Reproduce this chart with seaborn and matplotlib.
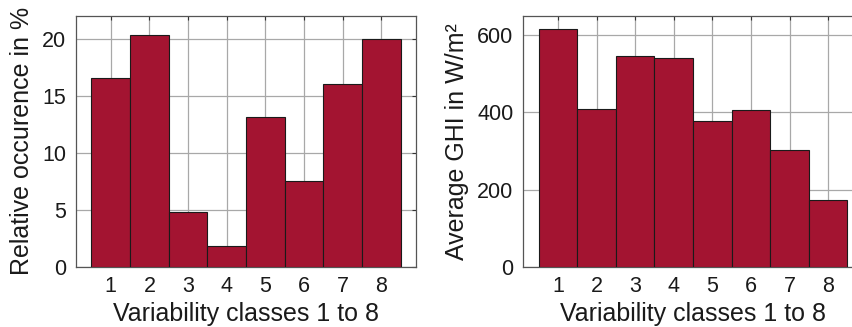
import numpy as np
import pandas as pd
import seaborn as sns
import matplotlib
matplotlib.use("Agg")
import matplotlib.pyplot as plt

# values
classes = [1, 2, 3, 4, 5, 6, 7, 8]
occurence = [16.6, 20.35, 4.78, 1.85, 13.1, 7.53, 16.0, 20.0]
ghi = [615, 410, 545, 540, 377, 406, 302, 173]

bar_color = "#A31431"

sns.set_style("white")
plt.rcParams["font.family"] = ["Liberation Sans", "DejaVu Sans"]

df = pd.DataFrame({"cls": classes, "occ": occurence, "ghi": ghi})

fig = plt.figure(figsize=(8.53, 3.27), dpi=100)
ax1 = fig.add_axes([0.0891, 0.1844, 0.3986, 0.7667])
ax2 = fig.add_axes([0.6135, 0.1844, 0.398, 0.7667])

for ax, col, ylim, yticks, ylab in [
    (ax1, "occ", (0, 22), [0, 5, 10, 15, 20], "Relative occurence in %"),
    (ax2, "ghi", (0, 650), [0, 200, 400, 600], "Average GHI in W/m²"),
]:
    sns.barplot(data=df, x="cls", y=col, native_scale=True, width=1,
                color=bar_color, saturation=1, edgecolor="#1a1a1a",
                linewidth=0.8, ax=ax, zorder=3)
    ax.set_xlim(0.1, 8.9)
    ax.set_ylim(*ylim)
    ax.set_xticks(classes)
    ax.set_yticks(yticks)
    ax.grid(True, color="#a8a8a8", linewidth=0.9, zorder=0)
    ax.set_axisbelow(True)
    ax.tick_params(direction="in", length=3, width=0.8, top=True, right=True,
                   labelsize=15.5, color="#333333", pad=7, labelcolor="#1a1a1a")
    for s in ax.spines.values():
        s.set_color("#555555")
        s.set_linewidth(0.9)
    ax.set_xlabel("Variability classes 1 to 8", fontsize=18, labelpad=3,
                  color="#1a1a1a")
    ax.set_ylabel(ylab, fontsize=18, labelpad=6, color="#1a1a1a")

fig.savefig("out.png", dpi=100)
